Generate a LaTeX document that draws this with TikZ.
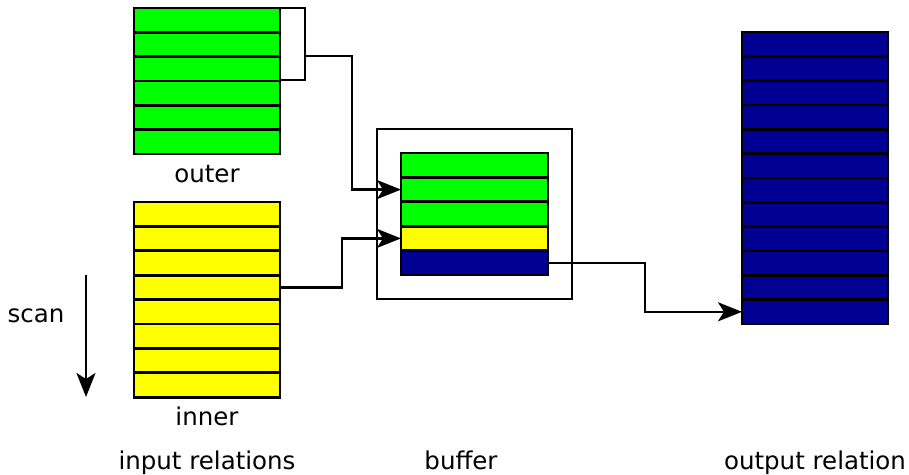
\documentclass[tikz,border=0pt]{standalone}
\usepackage{fontspec}
\setmainfont{DejaVu Sans}
\usetikzlibrary{arrows.meta,calc}

\definecolor{tgreen}{RGB}{0,255,0}
\definecolor{tyellow}{RGB}{255,255,0}
\definecolor{tnavy}{RGB}{0,0,146}

\tikzset{
  row/.style={draw=black,line width=2.8pt,minimum width=146pt,minimum height=24.33pt,inner sep=0pt,outer sep=0pt},
  box/.style={draw=black,line width=2.6pt,inner sep=0pt,outer sep=0pt},
  flow/.style={line width=2.4pt,-{Stealth[length=24pt,width=19pt,inset=6pt]}},
  lbl/.style={font=\fontsize{24.5}{28}\selectfont,inner sep=0.75pt}
}

\begin{document}
\begin{tikzpicture}[x=1pt,y=1pt,yscale=-1,xscale=1]
\useasboundingbox (0,0) rectangle (909,474);
% outer relation
\foreach \i in {1,...,6}
  \node[row,fill=tgreen] (o\i) at (207,{8+24.33*(\i-0.5)}) {};
\node[box,minimum width=25pt,minimum height=72pt] (blk) at (292.5,44) {};
\coordinate (blkout) at (305,56);
\node[lbl] (outer) at (207,174) {outer};
% inner relation
\foreach \i in {1,...,8}
  \node[row,fill=tyellow] (i\i) at (207,{202+24.4*(\i-0.5)}) {};
\node[lbl] (inner) at (207,416) {inner};
% scan direction
\coordinate (scantop) at (86,275);
\coordinate (scanbot) at (86,397);
\draw[flow] (scantop) -- (scanbot);
\node[lbl] (scan) at (36,316) {scan};
% buffer
\node[box,minimum width=195pt,minimum height=170pt] (buf) at (474.5,214) {};
\foreach \i/\c in {1/tgreen,2/tgreen,3/tgreen,4/tyellow,5/tnavy}
  \node[row,fill=\c,minimum width=147pt,minimum height=24.4pt] (b\i) at (474.5,{153+24.4*(\i-0.5)}) {};
% output relation
\foreach \i in {1,...,12}
  \node[row,fill=tnavy] (r\i) at (815,{32+24.33*(\i-0.5)}) {};
% flows
\draw[flow] (blkout) -- ++(47,0) |- (b2.west);
\draw[flow] (i4.east) -- ++(62,0) |- (b4.west);
\draw[flow] (b5.east) -- ++(97,0) |- (r12.west);
% captions
\node[lbl,anchor=base] (inrel) at (207,469) {input relations};
\node[lbl,anchor=base] (bufl) at (461,469) {buffer};
\node[lbl,anchor=base] (outrel) at (815,469) {output relation};
\end{tikzpicture}
\end{document}
